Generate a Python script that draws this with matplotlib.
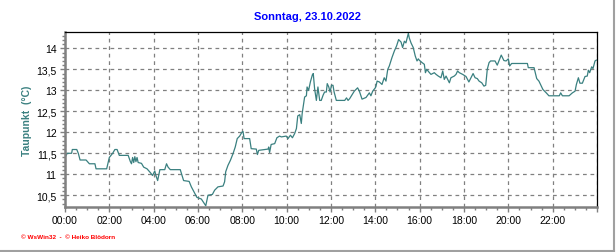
#!/usr/bin/env python3
"""
Dew point over one day (WsWin32 style daily chart).
"""

import matplotlib
matplotlib.use('Agg')
import matplotlib.pyplot as plt
from matplotlib.ticker import MultipleLocator, FuncFormatter
from matplotlib.lines import Line2D

plt.rcParams['font.family'] = ['Liberation Sans', 'DejaVu Sans']

# chart data: time of day in hours, dew point in degC
hours = [
    0.00, 0.10, 0.30, 0.33, 0.53, 0.60, 0.68, 0.95, 1.10, 1.35,
    1.40, 1.88, 2.00, 2.15, 2.25, 2.35, 2.45, 2.85, 2.95, 3.00,
    3.05, 3.10, 3.15, 3.20, 3.25, 3.30, 3.45, 3.55, 3.70, 3.85,
    3.95, 4.05, 4.10, 4.18, 4.28, 4.50, 4.58, 4.65, 4.75, 5.20,
    5.35, 5.60, 5.70, 5.85, 5.95, 6.15, 6.35, 6.45, 6.65, 6.75,
    6.90, 7.13, 7.20, 7.25, 7.35, 7.46, 7.58, 7.68, 7.77, 7.88,
    7.98, 8.03, 8.08, 8.33, 8.40, 8.63, 8.68, 8.74, 9.16, 9.19,
    9.23, 9.30, 9.46, 9.56, 9.68, 9.76, 9.98, 10.06, 10.17, 10.26,
    10.36, 10.44, 10.50, 10.59, 10.66, 10.70, 10.81, 10.89, 10.92, 10.99,
    11.07, 11.16, 11.20, 11.26, 11.34, 11.41, 11.49, 11.56, 11.64, 11.71,
    11.79, 11.83, 11.90, 11.96, 12.02, 12.09, 12.14, 12.24, 12.62, 12.70,
    12.77, 12.84, 13.05, 13.20, 13.28, 13.40, 13.58, 13.73, 13.80, 13.88,
    14.00, 14.03, 14.08, 14.18, 14.30, 14.40, 14.48, 14.56, 14.63, 14.75,
    14.86, 14.96, 15.05, 15.16, 15.23, 15.31, 15.38, 15.43, 15.49, 15.53,
    15.61, 15.71, 15.80, 15.88, 15.94, 15.98, 16.11, 16.21, 16.26, 16.32,
    16.41, 16.51, 16.66, 16.74, 16.84, 16.96, 17.04, 17.11, 17.19, 17.34,
    17.41, 17.56, 17.64, 17.71, 17.79, 17.94, 18.09, 18.22, 18.41, 18.50,
    18.60, 18.68, 18.80, 18.90, 18.98, 19.05, 19.13, 19.20, 19.40, 19.50,
    19.68, 19.80, 19.90, 20.00, 20.06, 20.15, 20.86, 20.90, 21.16, 21.28,
    21.38, 21.56, 21.71, 21.83, 22.30, 22.36, 22.44, 22.74, 22.89, 23.01,
    23.07, 23.16, 23.23, 23.34, 23.46, 23.56, 23.61, 23.67, 23.76, 23.82,
    23.91, 23.97,
]
dewpoint = [
    11.40, 11.50, 11.50, 11.59, 11.59, 11.50, 11.34, 11.34, 11.25, 11.25,
    11.13, 11.13, 11.40, 11.50, 11.59, 11.59, 11.45, 11.45, 11.30, 11.25,
    11.40, 11.28, 11.42, 11.30, 11.40, 11.28, 11.26, 11.17, 11.13, 11.04,
    10.97, 11.08, 10.97, 10.85, 11.11, 11.11, 11.25, 11.17, 11.11, 11.11,
    10.85, 10.83, 10.70, 10.55, 10.45, 10.41, 10.25, 10.50, 10.52, 10.62,
    10.70, 10.72, 10.82, 11.06, 11.21, 11.33, 11.49, 11.65, 11.85, 11.91,
    12.00, 12.02, 11.85, 11.85, 11.61, 11.60, 11.47, 11.57, 11.60, 11.65,
    11.52, 11.71, 11.73, 11.87, 11.91, 11.89, 11.91, 11.85, 11.93, 11.87,
    11.97, 12.09, 12.39, 12.42, 12.21, 12.45, 12.84, 12.87, 13.08, 13.00,
    13.20, 13.37, 13.40, 13.04, 12.76, 13.08, 12.76, 12.76, 12.88, 12.96,
    12.96, 13.16, 13.08, 12.96, 13.12, 13.12, 12.96, 12.76, 12.76, 12.82,
    12.76, 12.80, 12.98, 13.06, 12.98, 12.79, 12.83, 12.94, 12.87, 12.98,
    13.06, 13.10, 13.22, 13.20, 13.14, 13.30, 13.22, 13.50, 13.58, 13.78,
    13.94, 14.06, 14.21, 14.15, 14.02, 14.17, 14.13, 14.23, 14.36, 14.25,
    14.13, 14.02, 13.82, 13.70, 13.75, 13.72, 13.66, 13.62, 13.42, 13.50,
    13.44, 13.38, 13.42, 13.38, 13.34, 13.30, 13.46, 13.26, 13.34, 13.18,
    13.30, 13.34, 13.38, 13.46, 13.42, 13.38, 13.33, 13.20, 13.40, 13.30,
    13.28, 13.22, 13.18, 13.10, 13.12, 13.50, 13.66, 13.70, 13.70, 13.60,
    13.84, 13.71, 13.70, 13.75, 13.58, 13.64, 13.64, 13.54, 13.54, 13.28,
    13.22, 13.02, 12.94, 12.87, 12.87, 12.94, 12.87, 12.87, 12.94, 12.98,
    13.14, 13.30, 13.17, 13.17, 13.33, 13.34, 13.48, 13.42, 13.56, 13.52,
    13.70, 13.72,
]

title = 'Sonntag, 23.10.2022'
ylabel = 'Taupunkt  (°C)'
footer = '© WsWin32  -  © Heiko Blödorn'

W, H = 616, 253
fig = plt.figure(figsize=(W / 100, H / 100), dpi=100)
ax = fig.add_axes([65 / W, 1 - 208 / H, 532 / W, 175 / H])

ax.plot(hours, dewpoint, color='#3a8080', linewidth=0.9)

ax.set_xlim(0, 24)
ax.set_ylim(10.22, 14.39)

# axes: ticks, labels, grid
ax.xaxis.set_major_locator(MultipleLocator(2))
ax.xaxis.set_minor_locator(MultipleLocator(0.5))
ax.xaxis.set_major_formatter(FuncFormatter(lambda v, p: f'{int(v):02d}:00' if v < 24 else ''))
ax.yaxis.set_major_locator(MultipleLocator(0.5))
ax.yaxis.set_minor_locator(MultipleLocator(0.1))
ax.yaxis.set_major_formatter(FuncFormatter(lambda v, p: f'{v:g}'.replace('.', ',')))

ax.tick_params(which='major', length=3.5, width=1, color='#808080', labelsize=7.5, pad=2.5)
ax.tick_params(which='minor', length=2, width=1, color='#808080')
ax.grid(True, which='major', color='#808080', linestyle=(0, (3, 3)), linewidth=0.9)

for side in ('left', 'bottom'):
    ax.spines[side].set_color('#808080')
    ax.spines[side].set_linewidth(1.8)
for side in ('top', 'right'):
    ax.spines[side].set_color('black')
    ax.spines[side].set_linewidth(0.9)

# texts
fig.text(0.5, 1 - 17 / H, title, ha='center', va='center', color='#0000ff',
         fontsize=8, fontweight='bold')
fig.text(27 / W, 1 - 121 / H, ylabel, ha='center', va='center', rotation=90,
         color='#3a8080', fontsize=7.5, fontweight='bold')
fig.text(21 / W, 1 - 238 / H, footer, ha='left', va='center', color='#ff0000',
         fontsize=4.6, fontweight='bold')

# frame at right and bottom of the picture
fig.add_artist(Line2D([0, 614 / W], [1 - 252 / H] * 2, transform=fig.transFigure,
                      color='#a0a0a0', linewidth=1.5))
fig.add_artist(Line2D([614 / W] * 2, [1 - 252 / H, 1], transform=fig.transFigure,
                      color='#a0a0a0', linewidth=1.5))

fig.savefig('out.png', dpi=100)
